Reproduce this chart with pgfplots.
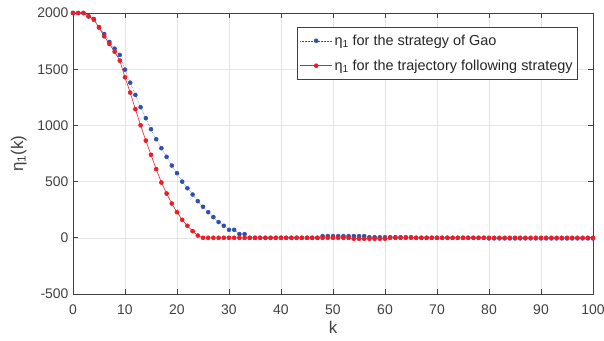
\documentclass[border=0pt]{standalone}
\usepackage{fontspec}
\setmainfont{Liberation Sans}
\usepackage{pgfplots}
\pgfplotsset{compat=1.18}
\definecolor{gaoblue}{RGB}{50,80,170}
\definecolor{trred}{RGB}{235,30,40}
\definecolor{axgray}{RGB}{64,64,64}
\begin{document}
\begin{tikzpicture}
\begin{axis}[name=ax,
  scale only axis, width=520bp, height=281bp,
  xmin=0, xmax=100, ymin=-500, ymax=2000,
  xtick={0,10,...,100}, ytick={-500,0,500,1000,1500,2000},
  grid=major, major grid style={draw=gray!20, line width=0.5pt},
  axis line style={draw=axgray, line width=0.7pt},
  tick style={draw=axgray, line width=0.7pt},
  tick align=inside, major tick length=5bp,
  ticklabel style={font=\fontsize{14}{16}\selectfont, text=axgray},
  xticklabel style={yshift=-7bp},
  yticklabel style={xshift=-1bp},
  /pgf/number format/assume math mode=true,
  /pgf/number format/1000 sep={},
  xlabel={k}, ylabel={η\textsubscript{1}(k)},
  xlabel style={font=\fontsize{17}{19}\selectfont, text=axgray, yshift=-2bp, inner sep=1bp},
  ylabel style={font=\fontsize{17}{19}\selectfont, text=axgray, yshift=4bp},
  legend style={at={(0.971,0.95)}, anchor=north east, draw=axgray, line width=0.5pt,
    font=\fontsize{14.5}{16}\selectfont, text=black!85, row sep=9bp, inner xsep=3bp, inner ysep=5.5bp},
  legend cell align=left,
  legend image code/.code={\draw[#1] (0bp,0bp) -- (16bp,0bp) (16bp,0bp) -- (32bp,0bp);
    \draw[#1, only marks] plot coordinates {(16bp,0bp)};},
]
\addplot[color=gaoblue, densely dotted, line width=0.5pt, mark=*, mark size=2bp,
  mark options={solid, fill=gaoblue, draw=gaoblue}] coordinates {
(0,2000)(1,2000)(2,2000)(3,1970)(4,1947)(5,1875)(6,1813)(7,1742)(8,1683)(9,1627)
(10,1496)(11,1380)(12,1271)(13,1162)(14,1064)(15,966)(16,877)(17,797)(18,720)(19,643)
(20,575)(21,500)(22,441)(23,385)(24,326)(25,276)(26,228)(27,184)(28,140)(29,107)
(30,71)(31,71)(32,33)(33,33)(34,0)(35,0)(36,0)(37,0)(38,0)(39,0)
(40,0)(41,0)(42,0)(43,0)(44,0)(45,0)(46,0)(47,0)(48,15)(49,15)
(50,15)(51,15)(52,15)(53,15)(54,15)(55,15)(56,15)(57,5)(58,5)(59,5)
(60,5)(61,5)(62,5)(63,5)(64,5)(65,5)(66,0)(67,0)(68,0)(69,0)
(70,0)(71,0)(72,0)(73,0)(74,0)(75,0)(76,0)(77,0)(78,0)(79,0)
(80,-5)(81,-5)(82,-5)(83,-5)(84,-5)(85,-5)(86,-5)(87,-5)(88,-5)(89,-5)
(90,-5)(91,-5)(92,-5)(93,-5)(94,-5)(95,-5)(96,-5)(97,-5)(98,-5)(99,-5)(100,-5)
};
\addlegendentry{η\textsubscript{1} for the strategy of Gao}
\addplot[color=trred, solid, line width=0.6pt, mark=*, mark size=2bp,
  mark options={fill=trred, draw=trred}] coordinates {
(0,2000)(1,2000)(2,2000)(3,1970)(4,1940)(5,1870)(6,1793)(7,1724)(8,1656)(9,1576)
(10,1428)(11,1292)(12,1144)(13,1001)(14,865)(15,738)(16,611)(17,492)(18,394)(19,305)
(20,228)(21,160)(22,107)(23,59)(24,20)(25,0)(26,0)(27,0)(28,0)(29,0)
(30,0)(31,0)(32,0)(33,0)(34,0)(35,0)(36,0)(37,0)(38,0)(39,0)
(40,0)(41,0)(42,0)(43,0)(44,0)(45,0)(46,0)(47,0)(48,0)(49,0)
(50,0)(51,0)(52,0)(53,0)(54,-8)(55,-8)(56,-8)(57,-8)(58,-8)(59,-8)
(60,-8)(61,0)(62,0)(63,0)(64,0)(65,0)(66,0)(67,0)(68,0)(69,0)
(70,0)(71,0)(72,0)(73,0)(74,0)(75,0)(76,0)(77,0)(78,0)(79,0)
(80,0)(81,0)(82,0)(83,0)(84,0)(85,0)(86,0)(87,0)(88,0)(89,0)
(90,0)(91,0)(92,0)(93,0)(94,0)(95,0)(96,0)(97,0)(98,0)(99,0)(100,0)
};
\addlegendentry{η\textsubscript{1} for the trajectory following strategy}
\end{axis}
\pgfresetboundingbox
\path[use as bounding box] ([xshift=-73bp,yshift=-47bp]ax.south west) rectangle ([xshift=11bp,yshift=13bp]ax.north east);
\end{tikzpicture}
\end{document}
